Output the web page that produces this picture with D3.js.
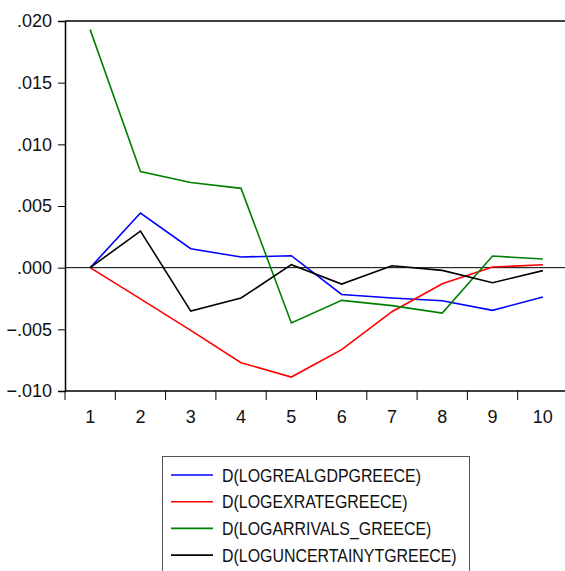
<!DOCTYPE html>
<html>
<head>
<meta charset="utf-8">
<script src="https://cdn.jsdelivr.net/npm/d3@7"></script>
<style>
  body { margin: 0; background: #fff; }
  svg { display: block; font-family: Arial, "Liberation Sans", sans-serif; }
</style>
</head>
<body>
<div id="chart"></div>
<script>
// periods and series
var periods = ["1", "2", "3", "4", "5", "6", "7", "8", "9", "10"];
var gdp      = [0.0, 0.00443, 0.00154, 0.00086, 0.00097, -0.00217, -0.00246, -0.00268, -0.00346, -0.00238];
var exrate   = [0.0, -0.00253, -0.00508, -0.00771, -0.00887, -0.00665, -0.00357, -0.00130, 0.00005, 0.00024];
var arrivals = [0.0193, 0.0078, 0.0069, 0.00643, -0.00449, -0.00265, -0.00308, -0.00368, 0.00094, 0.00070];
var uncert   = [0.0, 0.00297, -0.00352, -0.00246, 0.00024, -0.00133, 0.00016, -0.00022, -0.00122, -0.00024];
var seriesNames = ["D(LOGREALGDPGREECE)", "D(LOGEXRATEGREECE)", "D(LOGARRIVALS_GREECE)", "D(LOGUNCERTAINYTGREECE)"];
var seriesColors = ["#0000ff", "#ff0000", "#008000", "#000000"];
var yTicks = [0.020, 0.015, 0.010, 0.005, 0.000, -0.005, -0.010];

var series = [gdp, exrate, arrivals, uncert].map(function(vals, i) {
  return { name: seriesNames[i], color: seriesColors[i], values: vals };
});

var W = 565, H = 571;
var svg = d3.select("#chart").append("svg").attr("width", W).attr("height", H);

var plotL = 65, plotT = 21, plotR = 568, plotB = 391;

var x = d3.scaleBand().domain(periods).range([plotL, plotR]);
var y = d3.scaleLinear().domain([-0.010, 0.020]).range([plotB, plotT]);

// frame: top border
svg.append("line")
  .attr("x1", plotL).attr("x2", W)
  .attr("y1", plotT).attr("y2", plotT)
  .attr("stroke", "#000").attr("stroke-width", 1.5);

// y axis
var yAxis = svg.append("g")
  .attr("transform", "translate(" + plotL + ",0)")
  .call(d3.axisLeft(y).tickValues(yTicks).tickSize(7).tickPadding(6)
    .tickFormat(function(d) { return d3.format(".3f")(d).replace("0.", "."); }));
yAxis.select(".domain").attr("stroke-width", 1.5);
yAxis.selectAll("text").attr("font-size", 18).attr("fill", "#111").attr("font-family", "Arial, 'Liberation Sans', sans-serif");

// x axis: ticks between categories
var xg = svg.append("g").attr("transform", "translate(0," + plotB + ")");
xg.append("line").attr("x1", plotL).attr("x2", W).attr("y1", 0).attr("y2", 0)
  .attr("stroke", "#000").attr("stroke-width", 1.5);
xg.selectAll("line.tk").data(periods).enter().append("line")
  .attr("class", "tk")
  .attr("x1", function(d) { return x(d); }).attr("x2", function(d) { return x(d); })
  .attr("y1", 0).attr("y2", 9)
  .attr("stroke", "#000").attr("stroke-width", 1);
xg.selectAll("text").data(periods).enter().append("text")
  .attr("x", function(d) { return x(d) + x.bandwidth() / 2; })
  .attr("y", 32)
  .attr("text-anchor", "middle")
  .attr("font-size", 18).attr("fill", "#111")
  .text(function(d) { return d; });

// zero line
svg.append("line")
  .attr("x1", plotL).attr("x2", W)
  .attr("y1", y(0)).attr("y2", y(0))
  .attr("stroke", "#000").attr("stroke-width", 1);

var line = d3.line()
  .x(function(d, i) { return x(periods[i]) + x.bandwidth() / 2; })
  .y(function(d) { return y(d); });

svg.selectAll("path.series").data(series).enter().append("path")
  .attr("class", "series")
  .attr("d", function(d) { return line(d.values); })
  .attr("fill", "none")
  .attr("stroke", function(d) { return d.color; })
  .attr("stroke-width", 1.6)
  .attr("stroke-linejoin", "miter");

// legend
var lg = svg.append("g");
lg.append("rect")
  .attr("x", 162.5).attr("y", 456.5)
  .attr("width", 307).attr("height", 130)
  .attr("fill", "#fff").attr("stroke", "#555").attr("stroke-width", 1);
var items = lg.selectAll("g.item").data(series).enter().append("g")
  .attr("class", "item")
  .attr("transform", function(d, i) { return "translate(0," + (475 + i * 26.7) + ")"; });
items.append("line")
  .attr("x1", 171).attr("x2", 213).attr("y1", 0).attr("y2", 0)
  .attr("stroke", function(d) { return d.color; }).attr("stroke-width", 1.6);
items.append("text")
  .attr("transform", "translate(222,6.5) scale(0.885,1)")
  .attr("font-size", 18).attr("fill", "#111")
  .text(function(d) { return d.name; });
</script>
</body>
</html>
